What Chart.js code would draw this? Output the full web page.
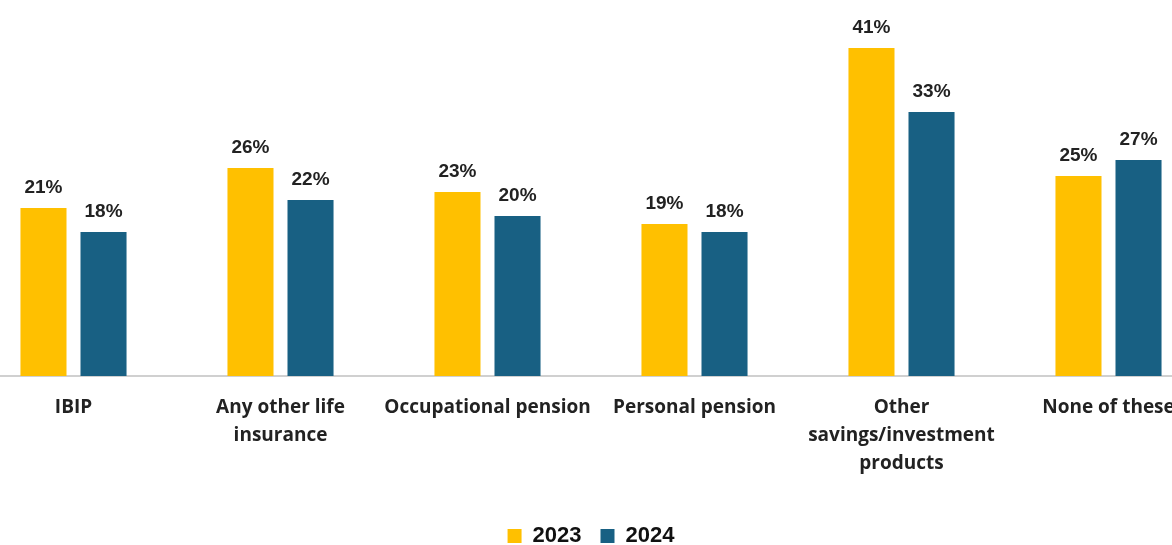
<!DOCTYPE html>
<html lang="en">
<head>
  <meta charset="UTF-8">
  <title>Product holdings 2023 vs 2024</title>
  <script src="https://cdn.jsdelivr.net/npm/chart.js"></script>
  <style>
    html, body { margin: 0; padding: 0; background: #fff; overflow: hidden; }
    #wrap { position: absolute; left: -30px; top: 0; width: 1242px; height: 545px; }
  </style>
</head>
<body>
  <div id="wrap"><canvas id="holdingsChart"></canvas></div>

  <script>
    const categories = [
      ['IBIP'],
      ['Any other life', 'insurance'],
      ['Occupational pension'],
      ['Personal pension'],
      ['Other', 'savings/investment', 'products'],
      ['None of these']
    ];
    const values2023 = [21, 26, 23, 19, 41, 25];
    const values2024 = [18, 22, 20, 18, 33, 27];
    const seriesNames = ['2023', '2024'];

    // percentage text above each bar
    const barLabels = {
      id: 'barLabels',
      afterDatasetsDraw(chart) {
        const c = chart.ctx;
        c.save();
        c.font = 'bold 19px "Liberation Sans", Arial, sans-serif';
        c.fillStyle = '#222';
        c.textAlign = 'center';
        c.textBaseline = 'bottom';
        chart.data.datasets.forEach((ds, i) => {
          chart.getDatasetMeta(i).data.forEach((bar, j) => {
            c.fillText(ds.data[j] + '%', bar.x, bar.y - 11);
          });
        });
        c.restore();
      }
    };

    const ctx = document.getElementById('holdingsChart').getContext('2d');
    new Chart(ctx, {
      type: 'bar',
      data: {
        labels: categories,
        datasets: [
          { label: seriesNames[0], data: values2023, backgroundColor: '#FFC000' },
          { label: seriesNames[1], data: values2024, backgroundColor: '#186083' }
        ]
      },
      options: {
        responsive: true,
        maintainAspectRatio: false,
        animation: false,
        categoryPercentage: 0.58,
        barPercentage: 0.767,
        // legend sits close to the bottom edge
        layout: { padding: { top: 16, bottom: -12 } },
        plugins: {
          legend: {
            position: 'bottom',
            labels: {
              boxWidth: 14,
              boxHeight: 14,
              color: '#111',
              padding: 19,
              font: { family: '"Liberation Sans", Arial, sans-serif', size: 22, weight: 'bold' }
            }
          },
          tooltip: { enabled: false }
        },
        scales: {
          x: {
            grid: { display: false, drawTicks: false },
            border: { color: '#d0d0d0', width: 2 },
            afterFit(scale) { scale.height = 130; },
            ticks: {
              color: '#222',
              padding: 18,
              maxRotation: 0,
              autoSkip: false,
              font: { family: '"Open Sans", sans-serif', size: 19, weight: 'bold', lineHeight: 1.47 }
            }
          },
          y: {
            display: false,
            min: 0,
            max: 45
          }
        }
      },
      plugins: [barLabels]
    });
  </script>
</body>
</html>
